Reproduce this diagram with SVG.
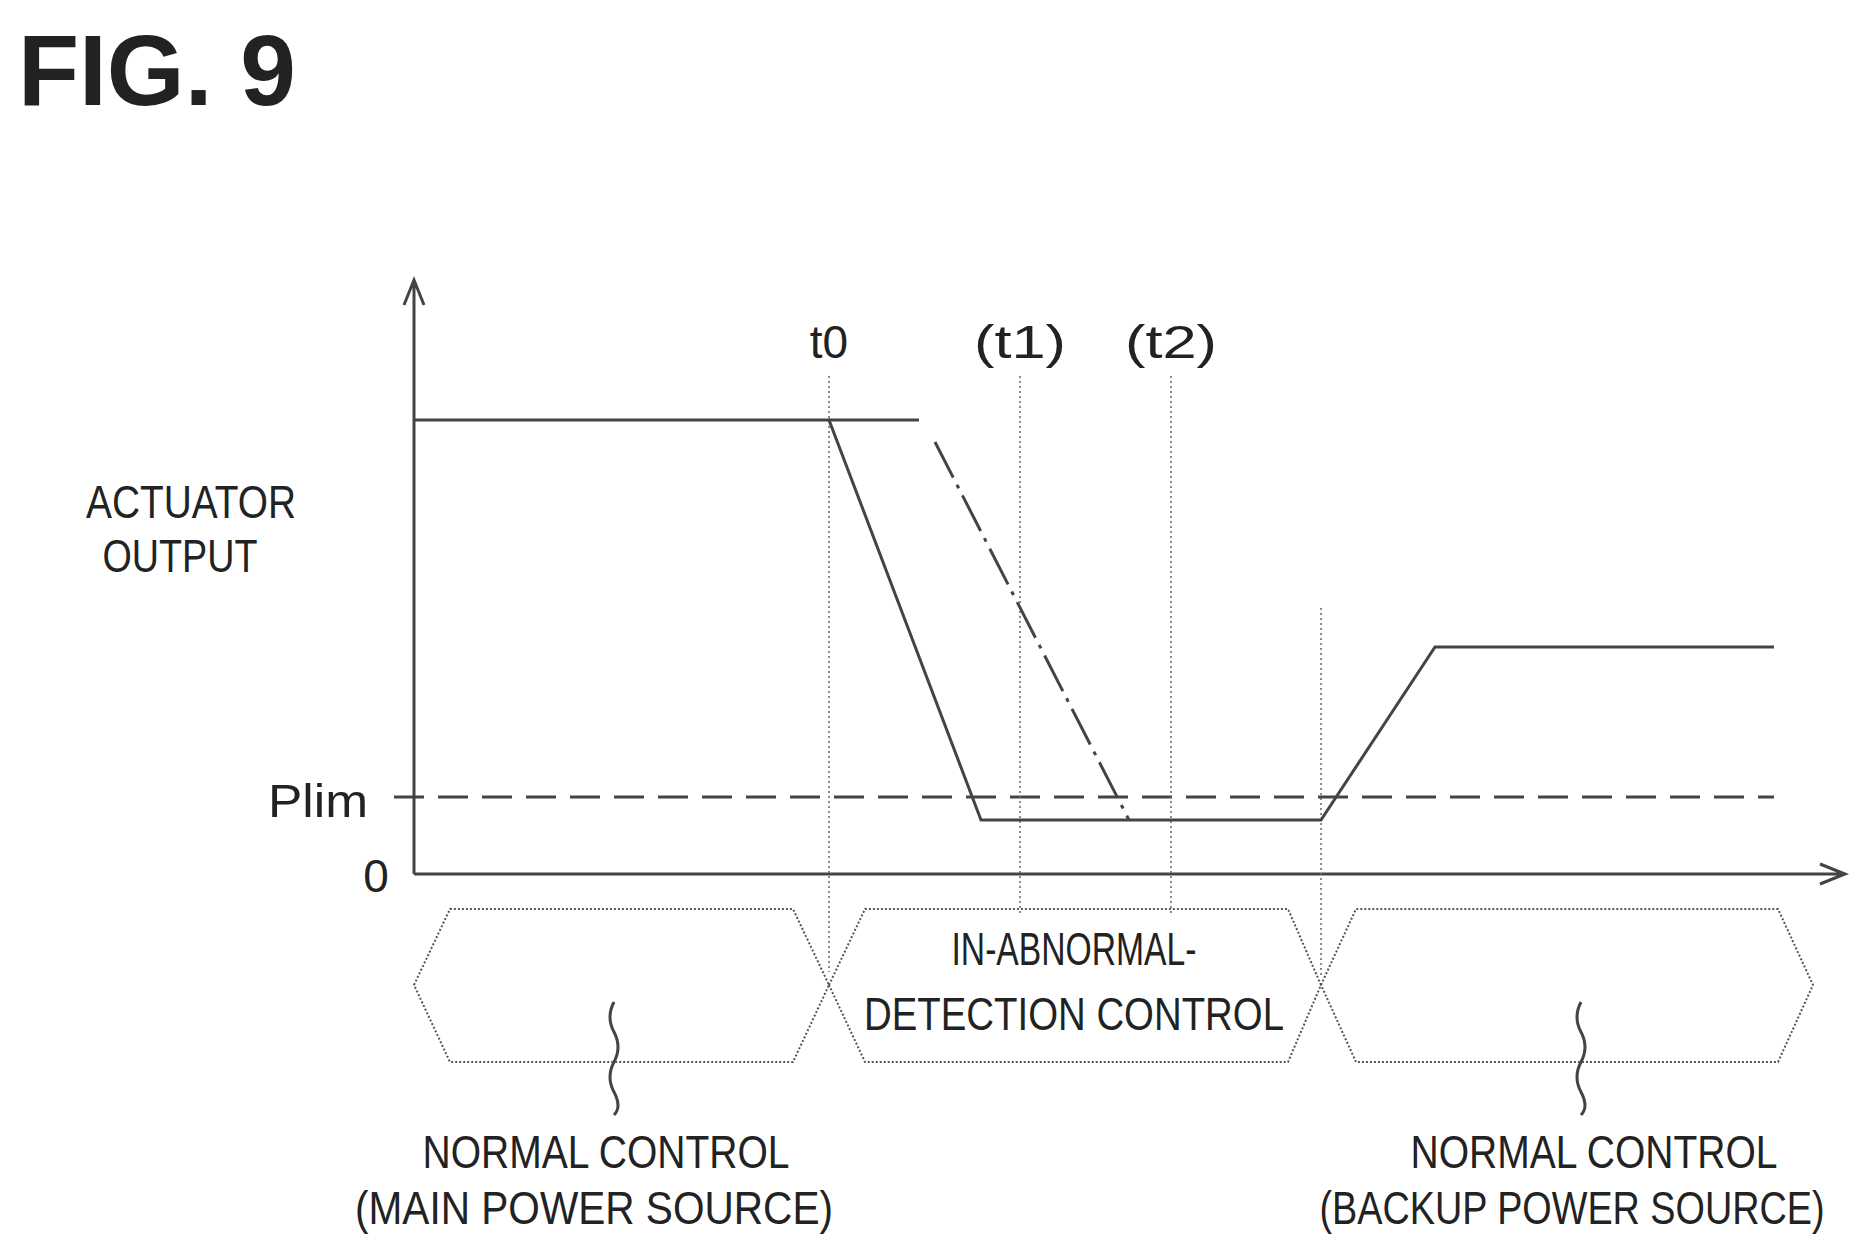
<svg xmlns="http://www.w3.org/2000/svg" width="1855" height="1250" viewBox="0 0 1855 1250">
<style>
text{font-family:"Liberation Sans",Arial,sans-serif;fill:#222}
.lbl{font-size:46px}
.ln{stroke:#444;stroke-width:3;fill:none}
.dot{stroke:#666;stroke-width:1.5;stroke-dasharray:2 3;fill:none}
.hex{stroke:#555;stroke-width:2;stroke-dasharray:2 2;fill:none}
</style>
<rect width="1855" height="1250" fill="#fff"/>
<text x="18" y="105" style="font-size:100px;font-weight:bold" fill="#333">FIG. 9</text>
<g id="axes">
<path class="ln" stroke-width="2" d="M414 874V282M404 305L414 280L424 305M414 874H1843M1820 864L1845 874L1820 884"/>
<text class="lbl" x="376" y="892" text-anchor="middle">0</text>
<text class="lbl" x="191" y="518" text-anchor="middle" textLength="210" lengthAdjust="spacingAndGlyphs">ACTUATOR</text>
<text class="lbl" x="180" y="572" text-anchor="middle" textLength="155" lengthAdjust="spacingAndGlyphs">OUTPUT</text>
<text class="lbl" x="318" y="817" text-anchor="middle" textLength="100" lengthAdjust="spacingAndGlyphs">Plim</text>
<path class="ln" stroke-width="2.5" stroke-dasharray="30 14" d="M394 797H1774"/>
</g>
<g id="connectors">
<path class="dot" d="M829 376V972M1020 376V913M1171 376V913M1321 608V978"/>
<path class="ln" d="M414 420H829L981 820H1321L1435 647H1774"/>
<path class="ln" stroke-width="2.5" d="M829 420H919"/>
<path class="ln" stroke-width="2.5" stroke-dasharray="40 8 4 8" d="M935 442L1129 820"/>
<path class="ln" stroke-width="1.5" d="M614 1002q-8 15 0 30t0 30t0 30t0 23M1581 1002q-8 15 0 30t0 30t0 30t0 23"/>
</g>
<g id="time-labels">
<text class="lbl" x="829" y="358" text-anchor="middle">t0</text>
<text class="lbl" x="1020" y="358" text-anchor="middle" textLength="92" lengthAdjust="spacingAndGlyphs">(t1)</text>
<text class="lbl" x="1171" y="358" text-anchor="middle" textLength="92" lengthAdjust="spacingAndGlyphs">(t2)</text>
</g>
<g id="phase1">
<path class="hex" d="M414 985L450 909H793L829 985L793 1062H450Z"/>
<text class="lbl" x="606" y="1168" text-anchor="middle" textLength="367" lengthAdjust="spacingAndGlyphs">NORMAL CONTROL</text>
<text class="lbl" x="594" y="1224" text-anchor="middle" textLength="478" lengthAdjust="spacingAndGlyphs">(MAIN POWER SOURCE)</text>
</g>
<g id="phase2">
<path class="hex" d="M829 985L865 909H1288L1321 985L1288 1062H865Z"/>
<text class="lbl" x="1074" y="965" text-anchor="middle" textLength="245" lengthAdjust="spacingAndGlyphs">IN-ABNORMAL-</text>
<text class="lbl" x="1074" y="1030" text-anchor="middle" textLength="420" lengthAdjust="spacingAndGlyphs">DETECTION CONTROL</text>
</g>
<g id="phase3">
<path class="hex" d="M1321 985L1356 909H1778L1813 985L1778 1062H1356Z"/>
<text class="lbl" x="1594" y="1168" text-anchor="middle" textLength="367" lengthAdjust="spacingAndGlyphs">NORMAL CONTROL</text>
<text class="lbl" x="1572" y="1224" text-anchor="middle" textLength="505" lengthAdjust="spacingAndGlyphs">(BACKUP POWER SOURCE)</text>
</g>
</svg>
